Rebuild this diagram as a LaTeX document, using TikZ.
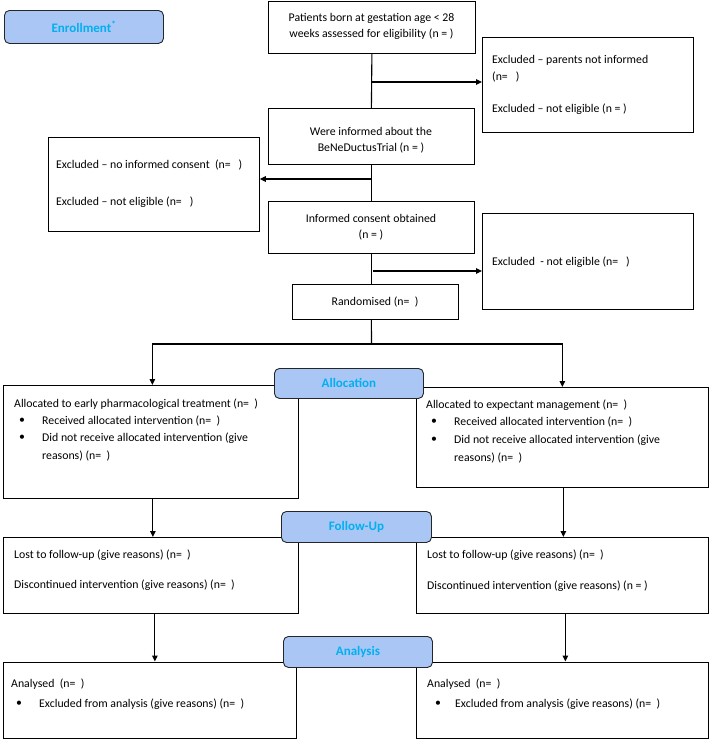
\documentclass[tikz,border=0pt]{standalone}
\usepackage{fontspec}
\setmainfont{Carlito}
\usetikzlibrary{arrows.meta}
\definecolor{lblfill}{RGB}{170,198,245}
\definecolor{lbltext}{RGB}{0,176,240}
\begin{document}
\begin{tikzpicture}[x=1pt,y=-1pt,
  font=\fontsize{11.8}{16}\selectfont,
  box/.style={draw, line width=0.8pt, inner sep=0pt, anchor=north west},
  lbl/.style={draw=black!85, line width=0.9pt, fill=lblfill, rounded corners=5pt, inner sep=0pt, anchor=north west,
    font=\fontsize{13}{14}\selectfont\bfseries, text=lbltext},
  txt/.style={anchor=west, inner sep=0pt},
  stxt/.style={anchor=west, inner sep=0pt},
  ctxt/.style={anchor=center, inner sep=0pt, align=center},
  arr/.style={-{Triangle[length=6pt,width=5.5pt]}, line width=1.1pt},
  ln/.style={line width=1.1pt}]
\useasboundingbox (0,0) rectangle (710,739);

% ---- boxes
\node[box, minimum width=207pt, minimum height=52pt] (b1) at (268,0.5) {};
\node[box, minimum width=211pt, minimum height=95pt] (e1) at (482,37) {};
\node[box, minimum width=206pt, minimum height=56pt] (b2) at (268,108) {};
\node[box, minimum width=211pt, minimum height=94pt] (e2) at (48,137) {};
\node[box, minimum width=206pt, minimum height=52pt] (b3) at (268,201) {};
\node[box, minimum width=211pt, minimum height=96pt] (e3) at (482,213) {};
\node[box, minimum width=166pt, minimum height=35pt] (rand) at (292,284) {};
\node[box, minimum width=295pt, minimum height=113pt] (al) at (3,385) {};
\node[box, minimum width=292pt, minimum height=100pt] (ar) at (416,387) {};
\node[box, minimum width=295pt, minimum height=76pt] (fl) at (3,537) {};
\node[box, minimum width=292pt, minimum height=76pt] (fr) at (416,537) {};
\node[box, minimum width=293pt, minimum height=76pt] (anl) at (3,661.5) {};
\node[box, minimum width=292pt, minimum height=76pt] (anr) at (416,661.5) {};

% ---- stage labels
\node[lbl, minimum width=159pt, minimum height=33pt] (enr) at (4,10) {Enrollment\textsuperscript{*}};

% ---- texts
\node[ctxt] (t1) at (371.5,26) {Patients born at gestation age < 28\\weeks assessed for eligibility (n = )};
\node[ctxt] (t2) at (371,140) {Were informed about the\\BeNeDuctusTrial (n = )};
\node[ctxt] (t3) at (371,227) {Informed consent obtained\\(n = )};
\node[ctxt] (t4) at (375,302) {Randomised (n=~~)};

\node[txt] (t5) at (492,60) {Excluded – parents not informed};
\node[txt] (t6) at (492,77) {(n=~~~)};
\node[txt] (t7) at (492,109) {Excluded – not eligible (n = )};
\node[txt] (t8) at (56,165) {Excluded – no informed consent~~(n=~~~)};
\node[txt] (t9) at (56,202) {Excluded – not eligible (n=~~~)};
\node[txt] (t10) at (492,262) {Excluded~~- not eligible (n=~~~)};

\node[txt] (t11) at (14,404) {Allocated to early pharmacological treatment (n=~~)};
\node[txt] (t12) at (19,421) {\textbullet};
\node[txt] (t13) at (42,421) {Received allocated intervention (n=~~)};
\node[txt] (t14) at (19,438) {\textbullet};
\node[txt] (t15) at (42,438) {Did not receive allocated intervention (give};
\node[txt] (t16) at (42,456) {reasons) (n=~~)};

\node[txt] (t17) at (426,405) {Allocated to expectant management (n=~~)};
\node[txt] (t18) at (431,422) {\textbullet};
\node[txt] (t19) at (454,422) {Received allocated intervention (n=~~)};
\node[txt] (t20) at (431,440) {\textbullet};
\node[txt] (t21) at (454,440) {Did not receive allocated intervention (give};
\node[txt] (t22) at (454,458) {reasons) (n=~~)};

\node[stxt] (t23) at (14,555) {Lost to follow-up (give reasons) (n=~~)};
\node[stxt] (t24) at (14,585) {Discontinued intervention (give reasons) (n=~~)};
\node[stxt] (t25) at (427,555) {Lost to follow-up (give reasons) (n=~~)};
\node[stxt] (t26) at (427,586) {Discontinued intervention (give reasons) (n = )};

\node[stxt] (t27) at (11,684) {Analysed~~(n=~~)};
\node[stxt] (t28) at (16,704) {\textbullet};
\node[stxt] (t29) at (39,704) {Excluded from analysis (give reasons) (n=~~)};
\node[stxt] (t30) at (427,684) {Analysed~~(n=~~)};
\node[stxt] (t31) at (435,704) {\textbullet};
\node[stxt] (t32) at (455,704) {Excluded from analysis (give reasons) (n=~~)};

% ---- connectors
\coordinate (j1) at (371.5,82);
\coordinate (j2) at (371.5,179);
\coordinate (j3) at (373,271);
\coordinate (sp) at (371.5,344);
\draw[ln] (b1.south) -- (b2.north);
\draw[arr] (j1) -- (j1 -| e1.west);
\draw[ln] (b2.south) -- (b3.north);
\draw[arr] (j2) -- (j2 -| e2.east);
\draw[ln] (b3.south) -- (b3.south |- rand.north);
\draw[arr] (j3) -- (j3 -| e3.west);
\draw[ln] (b3.south |- rand.south) -- (sp);
\draw[arr] (sp) -| ([xshift=1.5pt]al.north);
\draw[arr] (sp) -| (ar.north);
\draw[arr] ([xshift=2pt]al.south) -- ([xshift=2pt]al.south |- fl.north);
\draw[arr] ([xshift=1pt]ar.south) -- ([xshift=1pt]ar.south |- fr.north);
\draw[arr] ([xshift=4pt]fl.south) -- ([xshift=4pt]fl.south |- anl.north);
\draw[arr] ([xshift=3pt]fr.south) -- ([xshift=3pt]fr.south |- anr.north);

% stage labels drawn on top of the boxes
\node[lbl, minimum width=149pt, minimum height=30pt] (alloc) at (274,368) {Allocation};
\node[lbl, minimum width=150pt, minimum height=31pt] (fu) at (281,511) {Follow-Up};
\node[lbl, minimum width=149pt, minimum height=31pt] (ana) at (283,636) {Analysis};
\end{tikzpicture}
\end{document}
